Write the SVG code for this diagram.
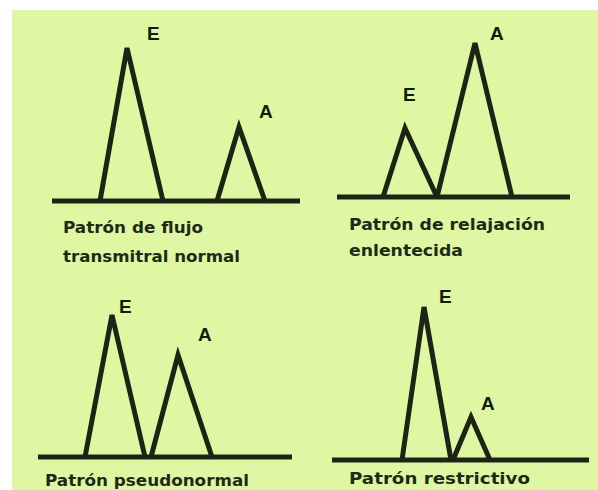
<svg xmlns="http://www.w3.org/2000/svg" width="598" height="490" viewBox="0 0 598 490">
<style>
.ln{fill:none;stroke:#1c2416;stroke-width:5;stroke-linejoin:miter;stroke-linecap:butt}
.lbl{font-family:"Liberation Sans",Arial,sans-serif;font-weight:bold;font-size:19px;fill:#141a10}
.cap{font-family:"DejaVu Sans",Verdana,sans-serif;font-weight:bold;font-size:15px;fill:#1e2a18}
</style>
<rect x="0" y="0" width="598" height="490" fill="#ffffff"/>
<rect x="12" y="10" width="586" height="480" fill="#dff7a2"/>
<g id="panel-normal">
<line class="ln" x1="52" y1="201" x2="300" y2="201"/>
<polyline class="ln" points="100,201 127,48 163,201"/>
<polyline class="ln" points="217,201 239,127 265,201"/>
<text class="lbl" x="147" y="40">E</text>
<text class="lbl" x="259" y="118">A</text>
<text class="cap" x="63" y="233" textLength="140" lengthAdjust="spacingAndGlyphs">Patrón de flujo</text>
<text class="cap" x="63" y="262" textLength="177" lengthAdjust="spacingAndGlyphs">transmitral normal</text>
</g>
<g id="panel-relajacion">
<line class="ln" x1="337" y1="197" x2="570" y2="197"/>
<polyline class="ln" points="383,197 405,128 437,197"/>
<polyline class="ln" points="437,197 475,43 512,197"/>
<text class="lbl" x="403" y="101">E</text>
<text class="lbl" x="490" y="40">A</text>
<text class="cap" x="349" y="230" textLength="196" lengthAdjust="spacingAndGlyphs">Patrón de relajación</text>
<text class="cap" x="349" y="256" textLength="114" lengthAdjust="spacingAndGlyphs">enlentecida</text>
</g>
<g id="panel-pseudonormal">
<line class="ln" x1="38" y1="457" x2="292" y2="457"/>
<polyline class="ln" points="85,457 112,315 145,457"/>
<polyline class="ln" points="151,457 178,355 212,457"/>
<text class="lbl" x="119" y="313">E</text>
<text class="lbl" x="198" y="341">A</text>
<text class="cap" x="45" y="486" textLength="204" lengthAdjust="spacingAndGlyphs">Patrón pseudonormal</text>
</g>
<g id="panel-restrictivo">
<line class="ln" x1="332" y1="460" x2="589" y2="460"/>
<polyline class="ln" points="402,460 424,307 451,460"/>
<polyline class="ln" points="453,460 471,417 490,460"/>
<text class="lbl" x="439" y="303">E</text>
<text class="lbl" x="481" y="410">A</text>
<text class="cap" x="349" y="484" textLength="181" lengthAdjust="spacingAndGlyphs">Patrón restrictivo</text>
</g>
</svg>
